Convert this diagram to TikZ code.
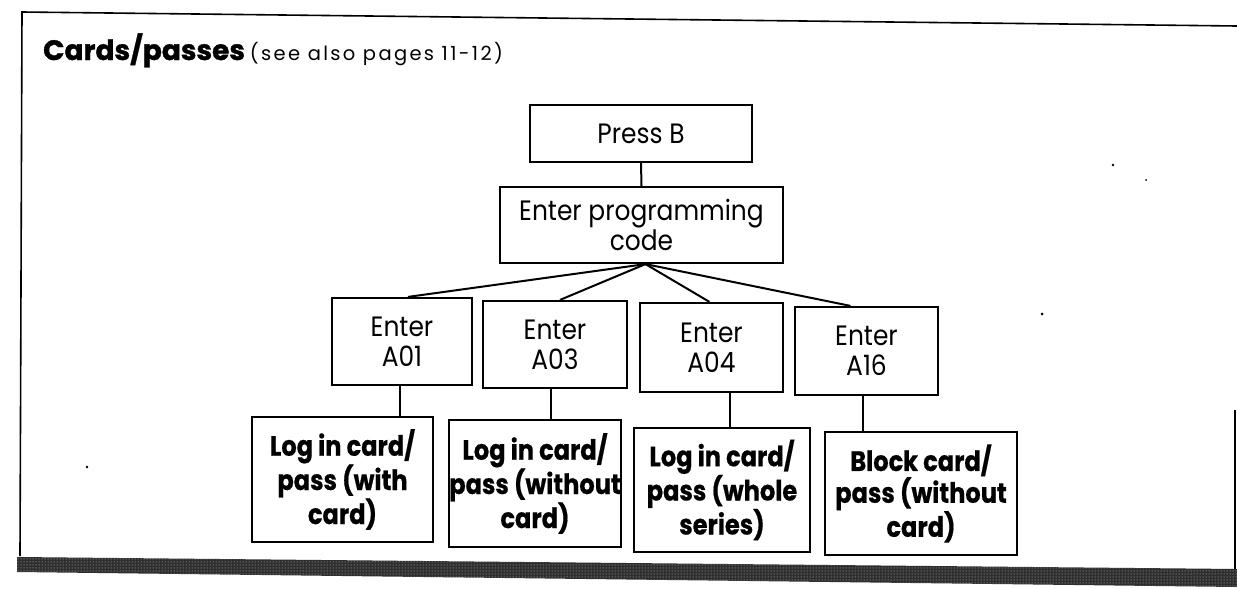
\documentclass[tikz,border=0pt]{standalone}
\usepackage{fontspec}
\setmainfont{Poppins}
\newfontfamily\boxfont[FakeStretch=0.89]{Poppins}
\newfontfamily\boldboxfont[FakeStretch=0.86,BoldFeatures={FakeBold=0.6}]{Poppins}
\newfontfamily\titlefont[BoldFeatures={FakeBold=1.2}]{Poppins}
\newfontfamily\notefont[LetterSpace=12]{Poppins}
\usetikzlibrary{calc,patterns}
\tikzset{
  frameline/.style={line width=1.6pt, black},
  conn/.style={line width=2pt, black},
  stepbox/.style={draw, line width=2.2pt, inner sep=0pt, align=center,
    font=\boxfont\fontsize{28}{30}\selectfont},
  resultbox/.style={draw, line width=2.2pt, inner sep=0pt, align=center,
    font=\boldboxfont\bfseries\fontsize{28}{30.5}\selectfont},
}
\begin{document}
\begin{tikzpicture}[x=1pt,y=-1pt]
\useasboundingbox (0,0) rectangle (1237,589);
% frame
\draw[frameline] (1237,26) -- (22,12) -- (20,556);
\draw[frameline] (1235,410) -- (1235,575);
\fill[black!82] (17,557) -- (1237,569) -- (1237,587) -- (17,572) -- cycle;
\fill[pattern=dots, pattern color=white!80!black] (17,557) -- (1237,569) -- (1237,587) -- (17,572) -- cycle;
% title
\node[anchor=base west, inner sep=0pt] (title) at (43,60)
  {{\titlefont\bfseries\fontsize{28}{30}\selectfont Cards/passes}\hspace{5pt}{\notefont\fontsize{19.5}{22}\selectfont (see also pages 11-12)}};
% boxes
\node[stepbox, minimum width=222pt, minimum height=57pt] (pressb) at (641,133.5) {Press B};
\node[stepbox, minimum width=283pt, minimum height=76pt] (epc) at (641.5,225) {Enter programming\\code};
\node[stepbox, minimum width=140pt, minimum height=87pt] (a01) at (402,341.5) {Enter\\A01};
\node[stepbox, minimum width=144pt, minimum height=87pt] (a03) at (555,344.5) {Enter\\A03};
\node[stepbox, minimum width=143pt, minimum height=89pt] (a04) at (711.5,347.5) {Enter\\A04};
\node[stepbox, minimum width=143pt, minimum height=88pt] (a16) at (866.5,351) {Enter\\A16};
\node[resultbox, minimum width=181pt, minimum height=125pt] (l1) at (342.5,479.5) {Log in card/\\pass (with\\card)};
\node[resultbox, minimum width=172pt, minimum height=127pt] (l2) at (535,483.5) {Log in card/\\pass (without\\card)};
\node[resultbox, minimum width=176pt, minimum height=124pt] (l3) at (722,490) {Log in card/\\pass (whole\\series)};
\node[resultbox, minimum width=192pt, minimum height=123pt] (l4) at (921,493.5) {Block card/\\pass (without\\card)};
% connectors
\coordinate (apex) at ([xshift=4pt]epc.south);
\draw[conn] (pressb.south) -- (epc.north);
\draw[conn] (apex) -- ([xshift=6pt]a01.north);
\draw[conn] (apex) -- ([xshift=5pt]a03.north);
\draw[conn] (apex) -- ([xshift=-2pt]a04.north);
\draw[conn] (apex) -- ([xshift=-16pt]a16.north);
\draw[conn] ([xshift=-2pt]a01.south) -- ([xshift=57.5pt]l1.north);
\draw[conn] ([xshift=-4pt]a03.south) -- ([xshift=16pt]l2.north);
\draw[conn] ([xshift=18.5pt]a04.south) -- ([xshift=8pt]l3.north);
\draw[conn] ([xshift=-3.5pt]a16.south) -- ([xshift=-58pt]l4.north);
% scan specks
\fill (1042,314) circle (1.5pt);
\fill (87,467) circle (1.3pt);
\fill (1113,165) circle (1.3pt);
\fill (1146,180) circle (1pt);
\end{tikzpicture}
\end{document}
